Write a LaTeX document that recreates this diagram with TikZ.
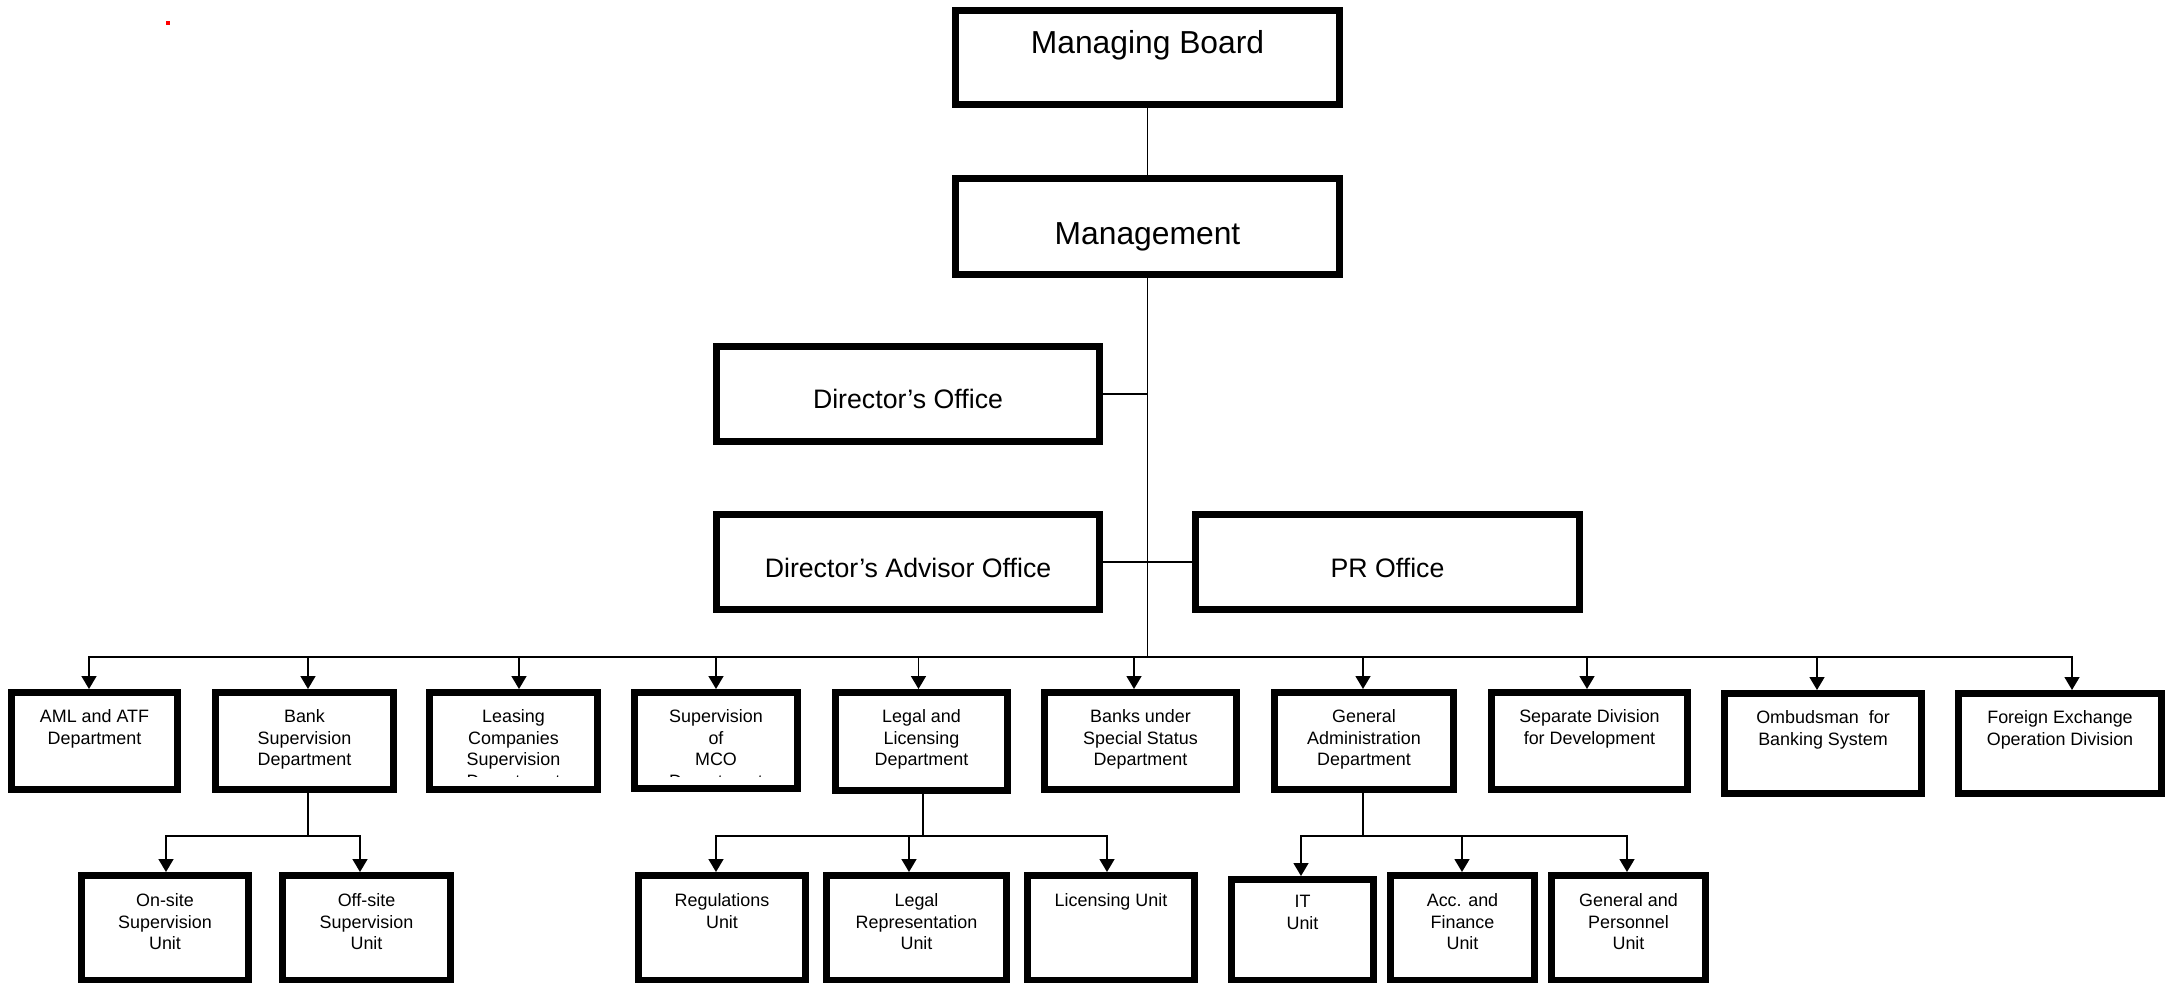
\documentclass[tikz,border=0pt]{standalone}
\usepackage{fontspec}
\setmainfont{Liberation Sans}
\usetikzlibrary{positioning,arrows.meta}
\tikzset{
	box/.style 2 args={draw, line width=0.14cm, inner sep=0pt, minimum width={(#1-7)*0.02cm}, minimum height={(#2-7)*0.02cm}},
	big/.style={font=\fontsize{18.1}{21}\selectfont},
	mid/.style={font=\fontsize{15.2}{18}\selectfont, text height=0.6cm, text depth=0cm},
	lbl/.style={font=\fontsize{10.2}{12.4}\selectfont, align=center, inner sep=0pt},
	link/.style={line width=0.9pt},
	arr/.style={link, -{Triangle[width=0.3cm,length=0.26cm]}}
}
\begin{document}
\begin{tikzpicture}[x=0.02cm,y=-0.02cm]
	\useasboundingbox (0,0) rectangle (2170,983);
	\fill[red] (166,21) rectangle (170,25);
	% top of the chart
	\node[box={391}{101}, big, text height=0cm, text depth=0.14cm] (board) at (1147.5,57.5) {Managing Board};
	\node[box={391}{103}, big, text height=0.74cm, text depth=0cm] (mgmt) at (1147.5,226.5) {Management};
	\node[box={390}{102}, mid] (diroff) at (908,394) {Director’s Office};
	\node[box={390}{102}, mid] (advoff) at (908,562) {Director’s Advisor Office};
	\node[box={391}{102}, mid] (proff) at (1387.5,562) {PR Office};
	\coordinate (bus) at (1147.5,657);
	\draw[link] (board) -- (mgmt);
	\draw[link] (mgmt) -- (bus);
	\draw[link] (diroff.east) -- (diroff.east -| bus);
	\draw[link] (advoff) -- (proff);
	% departments
	\node[box={173}{104}] (aml) at (94.5,741) {};
	\node[box={185}{104}] (bsd) at (304.5,741) {};
	\node[box={175}{104}] (leasing) at (513.5,741) {};
	\node[box={170}{103}] (mco) at (716,740.5) {};
	\node[box={179}{105}] (legal) at (921.5,741.5) {};
	\node[box={199}{104}] (special) at (1140.5,741) {};
	\node[box={186}{104}] (gad) at (1364,741) {};
	\node[box={203}{104}] (sep) at (1589.5,741) {};
	\node[box={204}{107}] (omb) at (1823,743.5) {};
	\node[box={210}{107}] (fx) at (2060,743.5) {};
	\node[lbl, below=0.40cm of aml.north] (amltext) {AML and ATF\\Department};
	\node[lbl, below=0.40cm of bsd.north] (bsdtext) {Bank\\Supervision\\Department};
	\begin{scope}
		\clip (426,689) rectangle (601,776.5);
		\node[lbl, below=0.40cm of leasing.north] (leasingtext) {Leasing\\Companies\\Supervision\\Department};
	\end{scope}
	\begin{scope}
		\clip (631,689) rectangle (801,776.5);
		\node[lbl, below=0.40cm of mco.north] (mcotext) {Supervision\\of\\MCO\\Department};
	\end{scope}
	\node[lbl, below=0.40cm of legal.north] (legaltext) {Legal and\\Licensing\\Department};
	\node[lbl, below=0.40cm of special.north] (specialtext) {Banks under\\Special Status\\Department};
	\node[lbl, below=0.40cm of gad.north] (gadtext) {General\\Administration\\Department};
	\node[lbl, below=0.40cm of sep.north] (septext) {Separate Division\\for Development};
	\node[lbl, below=0.40cm of omb.north] (ombtext) {Ombudsman\ \ for\\Banking System};
	\node[lbl, below=0.40cm of fx.north] (fxtext) {Foreign Exchange\\Operation Division};
	\foreach \n/\dx in {aml/-5.5, bsd/3.5, leasing/5.5, mco/0, legal/-3, special/-6.5, gad/-1, sep/-2.5, omb/-6, fx/12}
		\draw[arr] (bus) -| ([xshift=\dx*0.02cm]\n.north);
	% units
	\node[box={174}{112}] (onsite) at (165,928) {};
	\node[box={175}{112}] (offsite) at (366.5,928) {};
	\node[box={174}{112}] (regs) at (722,928) {};
	\node[box={187}{112}] (legrep) at (916.5,928) {};
	\node[box={174}{112}] (licu) at (1111,928) {};
	\node[box={149}{108}] (itu) at (1302.5,930) {};
	\node[box={151}{112}] (accu) at (1462.5,928) {};
	\node[box={161}{112}] (gpu) at (1628.5,928) {};
	\node[lbl, below=0.42cm of onsite.north] (onsitetext) {On-site\\Supervision\\Unit};
	\node[lbl, below=0.42cm of offsite.north] (offsitetext) {Off-site\\Supervision\\Unit};
	\node[lbl, below=0.42cm of regs.north] (regstext) {Regulations\\Unit};
	\node[lbl, below=0.42cm of legrep.north] (legreptext) {Legal\\Representation\\Unit};
	\node[lbl, below=0.42cm of licu.north] (licutext) {Licensing Unit};
	\node[lbl, below=0.38cm of itu.north] (itutext) {IT\\Unit};
	\node[lbl, below=0.42cm of accu.north] (accutext) {Acc. and\\Finance\\Unit};
	\node[lbl, below=0.42cm of gpu.north] (gputext) {General and\\Personnel\\Unit};
	\coordinate (bsdj) at (308,836);
	\coordinate (legj) at (923,836);
	\coordinate (gadj) at (1363,836);
	\draw[link] (bsdj) -- (bsdj |- bsd.south);
	\draw[link] (legj) -- (legj |- legal.south);
	\draw[link] (gadj) -- (gadj |- gad.south);
	\foreach \n/\dx in {onsite/1, offsite/-6.5}
		\draw[arr] (bsdj) -| ([xshift=\dx*0.02cm]\n.north);
	\foreach \n/\dx in {regs/-6, legrep/-7.5, licu/-4}
		\draw[arr] (legj) -| ([xshift=\dx*0.02cm]\n.north);
	\foreach \n/\dx in {itu/-1.5, accu/-0.5, gpu/-1.5}
		\draw[arr] (gadj) -| ([xshift=\dx*0.02cm]\n.north);
\end{tikzpicture}
\end{document}
